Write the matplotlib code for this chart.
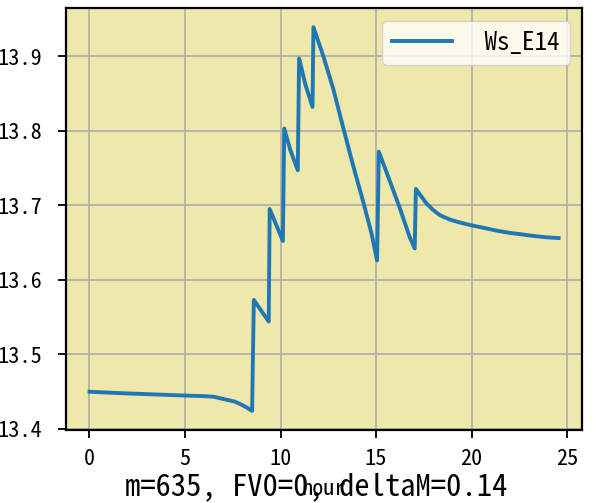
import matplotlib
matplotlib.use("Agg")
import matplotlib.pyplot as plt

plt.rcParams['font.family'] = ['Noto Sans Mono CJK SC', 'Noto Sans CJK SC', 'DejaVu Sans']
plt.rcParams['axes.unicode_minus'] = False

hours = [0.0, 1.0, 2.0, 3.0, 4.0, 5.1, 6.0, 6.5, 7.2, 7.6, 7.9, 8.2, 8.51,
         8.6, 9.0, 9.38,
         9.43, 9.8, 10.12,
         10.19, 10.5, 10.9,
         10.97, 11.3, 11.67,
         11.72, 12.24, 12.76, 13.28, 13.8, 14.32, 14.76, 15.05,
         15.14, 15.71, 16.23, 16.76, 17.02,
         17.08, 17.36, 17.62, 17.97, 18.32, 18.84, 19.36, 20.0, 20.57, 21.3, 21.96, 22.6, 23.18, 23.9, 24.55]
ws_e14 = [13.4497, 13.4485, 13.4474, 13.4465, 13.4455, 13.4445, 13.4438, 13.443, 13.4388, 13.4365, 13.433, 13.429, 13.424,
          13.573, 13.558, 13.544,
          13.695, 13.672, 13.652,
          13.803, 13.775, 13.747,
          13.897, 13.862, 13.832,
          13.939, 13.900, 13.856, 13.804, 13.753, 13.705, 13.662, 13.626,
          13.772, 13.733, 13.697, 13.657, 13.642,
          13.722, 13.712, 13.703, 13.694, 13.687, 13.681, 13.677, 13.673, 13.670, 13.666, 13.663, 13.661, 13.659, 13.657, 13.656]

fig = plt.figure(figsize=(5.97, 5.03), dpi=100)
ax = fig.add_axes([0.1106, 0.145, 0.8644, 0.839])
ax.set_facecolor('#eee8aa')
ax.plot(hours, ws_e14, color='#1f77b4', linewidth=2.8, label=' Ws_E14')
ax.grid(True, color='#b0b0b0', linewidth=1.3)
ax.set_axisbelow(True)
ax.set_xticks([0, 5, 10, 15, 20, 25])
ax.set_yticks([13.4, 13.5, 13.6, 13.7, 13.8, 13.9])
ax.tick_params(labelsize=16, length=6, width=1.3)
ax.tick_params(axis='y', pad=11)
ax.tick_params(axis='x', pad=7)
for s in ax.spines.values():
    s.set_linewidth(1.6)
ax.set_xlabel('hour', fontsize=16, labelpad=6)
ax.legend(loc='upper right', fontsize=18, handlelength=2.4)
fig.text(0.53, 0.016, 'm=635, FV0=0, deltaM=0.14', fontsize=22, ha='center', va='baseline')
fig.savefig('out.png', dpi=100)
